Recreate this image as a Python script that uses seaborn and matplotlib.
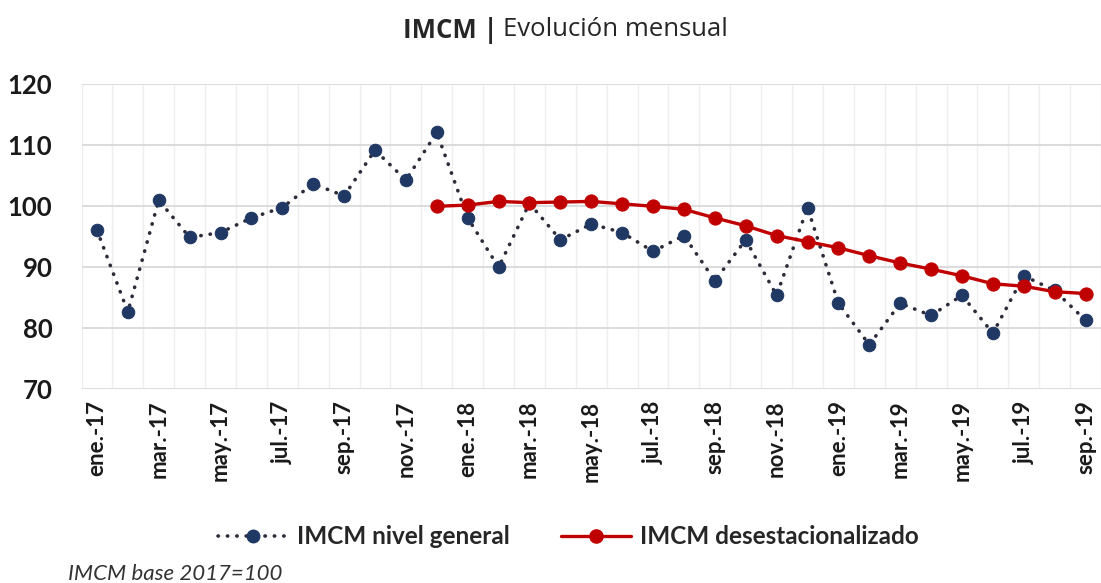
import seaborn as sns
import matplotlib.pyplot as plt
import pandas as pd
import numpy as np
from matplotlib.lines import Line2D

# monthly labels ene-17 ... sep-19
meses = ["ene.", "feb.", "mar.", "abr.", "may.", "jun.",
         "jul.", "ago.", "sep.", "oct.", "nov.", "dic."]
months = [f"{m}-{y}" for y in ["17", "18", "19"] for m in meses][:33]

nivel_general = [96.1, 82.7, 101.0, 94.9, 95.7, 98.1, 99.8, 103.7, 101.7, 109.2,
                 104.3, 112.1, 98.1, 90.0, 100.5, 94.5, 97.1, 95.7, 92.6, 95.2,
                 87.8, 94.5, 85.4, 99.8, 84.1, 77.3, 84.1, 82.1, 85.4, 79.2,
                 88.6, 86.2, 81.3]

desestacionalizado = [np.nan] * 11 + [100.0, 100.2, 100.8, 100.6, 100.7, 100.8,
                                      100.4, 100.0, 99.5, 98.1, 96.8, 95.2, 94.2,
                                      93.2, 91.9, 90.7, 89.7, 88.6, 87.3, 86.9,
                                      86.0, 85.7]

df = pd.DataFrame({"pos": np.arange(len(months)), "mes": months,
                   "general": nivel_general, "desest": desestacionalizado})

BLUE = "#1f3864"
RED = "#c00000"
DOTS = "#2b2b3a"

sns.set_style("white")
plt.rcParams['font.family'] = ['Open Sans', 'DejaVu Sans']

fig = plt.figure(figsize=(11.01, 5.83), dpi=100)
ax = fig.add_axes([81.5 / 1101, 193.7 / 583, 1 - 81.5 / 1101, (389.3 - 84.3) / 583])

sns.lineplot(data=df, x="pos", y="general", ax=ax, color=BLUE, lw=2.6,
             marker="o", markersize=9, markeredgecolor=BLUE,
             dashes=False, zorder=3)
ln = ax.lines[-1]
ln.set_linestyle((0, (0.1, 2.5)))
ln.set_dash_capstyle("round")
ln.set_color(DOTS)
ln.set_markerfacecolor(BLUE)

sns.lineplot(data=df.dropna(), x="pos", y="desest", ax=ax, color=RED, lw=2.4,
             marker="o", markersize=9.5, markeredgecolor=RED, zorder=4)

ax.set_ylim(70, 120)
ax.set_yticks(range(70, 121, 10))
ax.set_xlim(-0.5, 32.29)
ax.set_xticks(df["pos"][::2])
ax.set_xticklabels(df["mes"][::2], rotation=90, fontsize=16,
                   fontweight="bold", family="Lato", color="#1a1a1a")
ax.set_xticks(np.arange(-0.5, 33, 1), minor=True)
ax.tick_params(axis="x", which="both", length=0, pad=8)
ax.tick_params(axis="y", length=0, pad=21, labelsize=18.5)
for t in ax.get_yticklabels():
    t.set_fontweight("bold")
    t.set_family("Lato")
    t.set_color("#1a1a1a")

ax.grid(axis="y", which="major", color="#d9d9d9", lw=1.3)
ax.grid(axis="x", which="minor", color="#eeeeee", lw=1.0)
ax.grid(axis="x", which="major", visible=False)
for s in ax.spines.values():
    s.set_visible(False)
ax.set_xlabel("")
ax.set_ylabel("")

handles = [
    Line2D([], [], color=DOTS, lw=2.6, linestyle=(0, (0.1, 2.5)),
           dash_capstyle="round", marker="o", markersize=9,
           markerfacecolor=BLUE, markeredgecolor=BLUE),
    Line2D([], [], color=RED, lw=2.4, marker="o", markersize=9.5,
           markeredgecolor=RED),
]
fig.legend(handles, ["IMCM nivel general", "IMCM desestacionalizado"],
           loc="center", bbox_to_anchor=(568 / 1101, 1 - 537 / 583), ncol=2,
           frameon=False, handlelength=2.9, handletextpad=0.35,
           columnspacing=2.1,
           prop={"family": "Lato", "weight": "bold", "size": 17.5})

fig.text(498 / 1101, 1 - 30 / 583, "IMCM |", ha="right", va="center",
         fontsize=18.5, fontweight="bold")
fig.text(503 / 1101, 1 - 30 / 583, "Evolución mensual", ha="left",
         va="center", fontsize=18.5)
fig.text(68 / 1101, 1 - 574 / 583, "IMCM base 2017=100", ha="left",
         va="center", fontsize=16, style="italic", family="Lato",
         color="#333333")

fig.savefig("out.png", dpi=100)
